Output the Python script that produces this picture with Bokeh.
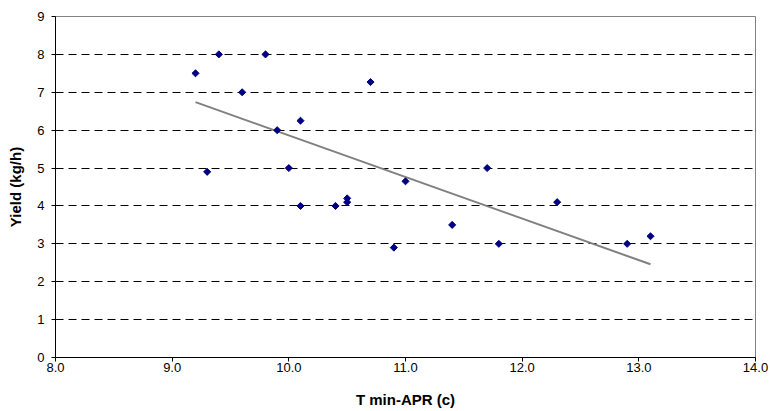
import math
from bokeh.plotting import figure
from bokeh.models import Range1d, FixedTicker, CustomJSTickFormatter
from bokeh.embed import file_html
from bokeh.resources import INLINE

# Data
t_min_apr = [9.2, 9.3, 9.4, 9.6, 9.8, 9.9, 10.0, 10.1, 10.1, 10.4, 10.5, 10.5,
             10.7, 10.9, 11.0, 11.4, 11.7, 11.8, 12.3, 12.9, 13.1]
yield_kgh = [7.5, 4.9, 8.0, 7.0, 8.0, 6.0, 5.0, 6.25, 4.0, 4.0, 4.2, 4.1,
             7.27, 2.9, 4.65, 3.5, 5.0, 3.0, 4.1, 3.0, 3.2]
trend_x = [9.2, 13.1]
trend_y = [6.74, 2.46]
x_ticks = [8.0, 9.0, 10.0, 11.0, 12.0, 13.0, 14.0]
y_ticks = [0, 1, 2, 3, 4, 5, 6, 7, 8, 9]

FONT = "Liberation Sans"

p = figure(width=770, height=411, output_backend="svg", toolbar_location=None,
           x_range=Range1d(8.0, 14.0), y_range=Range1d(0, 9),
           min_border_left=55, min_border_right=15, min_border_top=16, min_border_bottom=54)

p.outline_line_color = "#808080"
p.outline_line_width = 1
p.background_fill_color = "white"
p.border_fill_color = "white"

# grid
p.xgrid.grid_line_color = None
p.ygrid.ticker = FixedTicker(ticks=y_ticks[1:-1])
p.ygrid.grid_line_color = "black"
p.ygrid.grid_line_dash = "8 5"
p.ygrid.grid_line_width = 1

# axes
p.xaxis.ticker = FixedTicker(ticks=x_ticks)
p.yaxis.ticker = FixedTicker(ticks=y_ticks)
p.xaxis.formatter = CustomJSTickFormatter(code="return tick.toFixed(1);")
for ax in (p.xaxis, p.yaxis):
    ax.axis_line_color = "black"
    ax.axis_line_width = 1
    ax.major_tick_line_color = "black"
    ax.major_tick_out = 4
    ax.major_tick_in = 0
    ax.minor_tick_line_color = None
    ax.major_label_text_font = FONT
    ax.major_label_text_font_size = "13px"
    ax.major_label_text_color = "black"
    ax.axis_label_text_font = FONT
    ax.axis_label_text_font_size = "15px"
    ax.axis_label_text_font_style = "bold"
    ax.axis_label_text_color = "black"

p.xaxis.axis_label = "T min-APR (c)"
p.yaxis.axis_label = "Yield (kg/h)"
p.xaxis.major_label_standoff = 1
p.xaxis.axis_label_standoff = 16
p.yaxis.major_label_standoff = 7
p.yaxis.axis_label_standoff = 10

# trend line
p.line(trend_x, trend_y, line_color="#808080", line_width=2)

# points (diamonds drawn as squares rotated by 45 degrees)
p.scatter(t_min_apr, yield_kgh, marker="square", size=5, angle=math.pi / 4,
          fill_color="#000080", line_color="#000080", line_width=1)

open("out.html", "w").write(file_html(p, INLINE))
